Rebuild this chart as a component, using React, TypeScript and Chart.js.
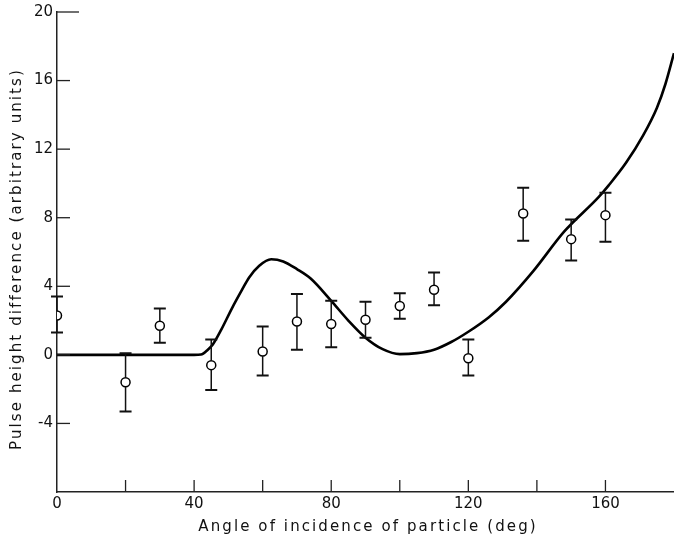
import React, { useEffect, useRef } from "react";
import { Chart, registerables } from "chart.js";

Chart.register(...registerables);

// Measured data points
const angles = [0, 20, 30, 45, 60, 70, 80, 90, 100, 110, 120, 136, 150, 160];
const means = [2.3, -1.6, 1.7, -0.6, 0.2, 1.95, 1.8, 2.05, 2.85, 3.8, -0.2, 8.25, 6.75, 8.15];
const errLow = [1.3, -3.3, 0.7, -2.05, -1.2, 0.3, 0.45, 1.0, 2.1, 2.9, -1.2, 6.65, 5.5, 6.6];
const errHigh = [3.4, 0.1, 2.7, 0.9, 1.65, 3.55, 3.15, 3.1, 3.6, 4.8, 0.9, 9.75, 7.9, 9.45];

// Theory curve
const curveX = [0, 20, 40, 42, 44, 45.5, 48, 51, 54, 56, 59, 62.5, 66, 70, 74, 80, 85, 90, 95, 100, 105, 110, 115, 120, 126, 131, 139, 148, 158, 161, 166, 171, 175, 177.5, 180];
const curveY = [0, 0, 0, 0.02, 0.3, 0.62, 1.5, 2.7, 3.8, 4.5, 5.2, 5.58, 5.45, 5.0, 4.45, 3.15, 2.0, 1.0, 0.33, 0.04, 0.1, 0.3, 0.75, 1.35, 2.2, 3.1, 4.9, 7.2, 9.2, 9.9, 11.2, 12.8, 14.4, 15.8, 17.6];

const yTickLabels = [-4, 0, 4, 8, 12, 16, 20];
const xTickLabels = [0, 40, 80, 120, 160];
const xTickMarks = [20, 40, 60, 80, 100, 120, 140, 160];
const xTitle = "Angle of incidence of particle (deg)";
const yTitle = "Pulse height difference (arbitrary units)";

const FONT = "'DejaVu Sans', sans-serif";

export default function App() {
  const ref = useRef<HTMLCanvasElement | null>(null);
  useEffect(() => {
    document.body.style.margin = "0";
    const canvas = ref.current;
    if (!canvas) return;

    const overlay = {
      id: "overlay",
      afterDatasetsDraw(chart: any) {
        const ctx = chart.ctx;
        const xs = chart.scales.x;
        const ys = chart.scales.y;
        ctx.save();
        // error bars
        ctx.strokeStyle = "#111";
        ctx.lineWidth = 1.5;
        for (let i = 0; i < angles.length; i++) {
          const px = xs.getPixelForValue(angles[i]);
          const lo = ys.getPixelForValue(errLow[i]);
          const hi = ys.getPixelForValue(errHigh[i]);
          const c = ys.getPixelForValue(means[i]);
          ctx.beginPath();
          ctx.moveTo(px, hi);
          ctx.lineTo(px, c - 4.5);
          ctx.moveTo(px, c + 4.5);
          ctx.lineTo(px, lo);
          ctx.stroke();
          ctx.lineWidth = 2;
          ctx.beginPath();
          ctx.moveTo(px - 6, hi);
          ctx.lineTo(px + 6, hi);
          ctx.moveTo(px - 6, lo);
          ctx.lineTo(px + 6, lo);
          ctx.stroke();
          ctx.lineWidth = 1.5;
        }
        // tick marks inside
        ctx.strokeStyle = "#222";
        ctx.lineWidth = 1.3;
        const left = chart.chartArea.left;
        const bottom = chart.chartArea.bottom;
        for (const v of yTickLabels) {
          const py = ys.getPixelForValue(v);
          const len = v === 20 ? 22 : 13;
          ctx.beginPath();
          ctx.moveTo(left, py);
          ctx.lineTo(left + len, py);
          ctx.stroke();
        }
        for (const v of xTickMarks) {
          const px = xs.getPixelForValue(v);
          ctx.beginPath();
          ctx.moveTo(px, bottom);
          ctx.lineTo(px, bottom - 12);
          ctx.stroke();
        }
        // titles
        ctx.fillStyle = "#111";
        ctx.font = `15px ${FONT}`;
        ctx.textAlign = "center";
        ctx.textBaseline = "alphabetic";
        (ctx as any).letterSpacing = "2.1px";
        ctx.fillText(xTitle, 368, 531);
        ctx.translate(21, 259);
        ctx.rotate(-Math.PI / 2);
        ctx.fillText(yTitle, 0, 0);
        ctx.restore();
      },
    };

    const chart = new Chart(canvas, {
      type: "scatter",
      data: {
        datasets: [
          {
            type: "line",
            data: curveX.map((x, i) => ({ x, y: curveY[i] })),
            borderColor: "#000",
            borderWidth: 2.6,
            pointRadius: 0,
            cubicInterpolationMode: "monotone",
            fill: false,
          } as any,
          {
            type: "scatter",
            data: angles.map((x, i) => ({ x, y: means[i] })),
            pointRadius: 4.5,
            pointBackgroundColor: "#fff",
            pointBorderColor: "#000",
            pointBorderWidth: 1.5,
          },
        ],
      },
      options: {
        responsive: false,
        animation: false,
        layout: { autoPadding: false, padding: { top: 12, right: 0, left: 0, bottom: 0 } },
        plugins: { legend: { display: false }, tooltip: { enabled: false } },
        scales: {
          x: {
            type: "linear",
            min: 0,
            max: 180,
            afterFit: (s: any) => {
              s.height = 50;
              s.paddingLeft = 0;
              s.paddingRight = 0;
            },
            border: { display: true, color: "#222", width: 1.5 },
            grid: { display: false },
            ticks: {
              stepSize: 40,
              autoSkip: false,
              maxRotation: 0,
              padding: -5,
              color: "#111",
              font: { family: FONT, size: 15 },
              callback: (v: any) => (xTickLabels.includes(Number(v)) ? String(v) : ""),
            },
          },
          y: {
            type: "linear",
            min: -8,
            max: 20,
            afterFit: (s: any) => {
              s.width = 57;
              s.paddingTop = 0;
              s.paddingBottom = 0;
            },
            border: { display: true, color: "#222", width: 1.5 },
            grid: { display: false },
            ticks: {
              stepSize: 4,
              autoSkip: false,
              padding: -4,
              color: "#111",
              font: { family: FONT, size: 15 },
              callback: (v: any) => (yTickLabels.includes(Number(v)) ? String(v) : ""),
            },
          },
        },
      },
      plugins: [overlay],
    });
    return () => chart.destroy();
  }, []);
  return <canvas ref={ref} width={674} height={542} style={{ display: "block" }} />;
}
